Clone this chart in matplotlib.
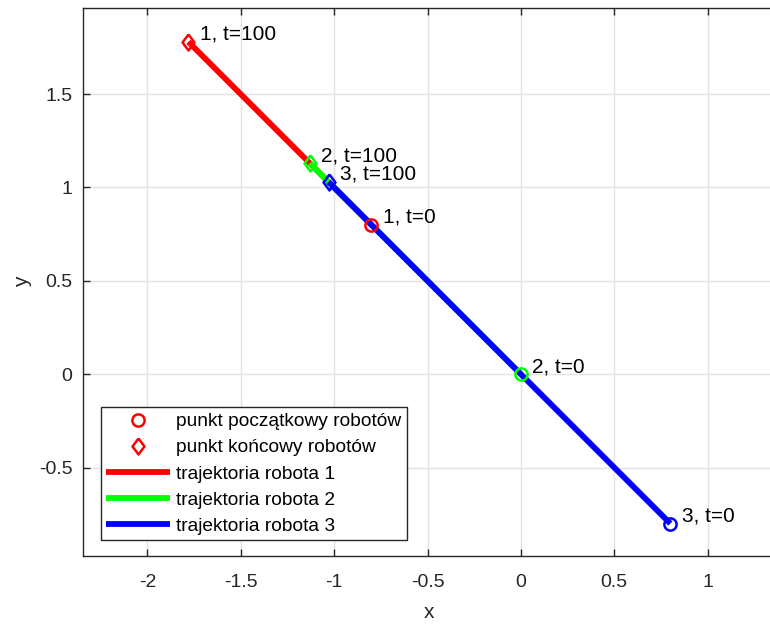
import matplotlib
matplotlib.use("Agg")
import matplotlib.pyplot as plt

plt.rcParams["font.family"] = ["Liberation Sans", "DejaVu Sans"]

# Robot start/end positions (t=0 and t=100)
robot_ids = [1, 2, 3]
robot_colors = ["#ff0000", "#00ff00", "#0000ff"]
start_x = [-0.8, 0.0, 0.8]
start_y = [0.8, 0.0, -0.8]
end_x = [-1.78, -1.13, -1.03]
end_y = [1.78, 1.13, 1.03]
t_start = 0
t_end = 100

x_ticks = [-2, -1.5, -1, -0.5, 0, 0.5, 1]
y_ticks = [-0.5, 0, 0.5, 1, 1.5]

AX_COLOR = "#262626"
DIAMOND = [(0, 1), (0.75, 0), (0, -1), (-0.75, 0), (0, 1)]

fig = plt.figure(figsize=(7.7, 6.24), dpi=100)
ax = fig.add_axes([0.1074, 0.1095, 0.899, 0.877])

# trajectories, later robots drawn over earlier ones
for rid, col, x0, y0, x1, y1 in zip(robot_ids, robot_colors, start_x, start_y, end_x, end_y):
    ax.plot([x0, x1], [y0, y1], color=col, lw=4.2, solid_capstyle="butt",
            label=f"trajektoria robota {rid}", zorder=2)

start_handle = None
end_handle = None
for rid, col, x0, y0, x1, y1 in zip(robot_ids, robot_colors, start_x, start_y, end_x, end_y):
    (h0,) = ax.plot([x0], [y0], ls="none", marker="o", ms=8.8, mew=1.8,
                    mec=col, mfc="none", zorder=4)
    (h1,) = ax.plot([x1], [y1], ls="none", marker=DIAMOND, ms=11.5, mew=1.8,
                    mec=col, mfc="none", zorder=4)
    if start_handle is None:
        start_handle, end_handle = h0, h1
    ax.text(x0 + 0.06, y0 + 0.04, f"{rid}, t={t_start}", fontsize=15,
            va="center", ha="left", zorder=5)
    ax.text(x1 + 0.06, y1 + 0.04, f"{rid}, t={t_end}", fontsize=15,
            va="center", ha="left", zorder=5)

ax.set_xlim(-2.346, 1.36)
ax.set_ylim(-0.972, 1.959)
ax.set_xticks(x_ticks)
ax.set_xticklabels([f"{v:g}" for v in x_ticks])
ax.set_yticks(y_ticks)
ax.set_yticklabels([f"{v:g}" for v in y_ticks])

ax.grid(True, color="#e3e3e3", lw=1.0, zorder=0)
ax.set_axisbelow(True)
for sp in ax.spines.values():
    sp.set_color(AX_COLOR)
    sp.set_linewidth(1.0)
ax.tick_params(direction="in", length=5, width=1.0, colors=AX_COLOR,
               labelsize=14, top=True, right=False)
ax.tick_params(axis="x", pad=13)
ax.tick_params(axis="y", pad=7.5)

ax.set_xlabel("x", fontsize=15, color=AX_COLOR, labelpad=9)
ax.set_ylabel("y", fontsize=15, color=AX_COLOR, labelpad=5)

lines = ax.get_lines()[:3]
leg = ax.legend([start_handle, end_handle] + lines,
                ["punkt początkowy robotów", "punkt końcowy robotów"]
                + [l.get_label() for l in lines],
                loc="lower left", bbox_to_anchor=(0.026, 0.028),
                fontsize=13.8, handlelength=3.3, handletextpad=0.32,
                labelspacing=0.45, borderpad=0.3, borderaxespad=0,
                fancybox=False, framealpha=1, edgecolor=AX_COLOR)
leg.get_frame().set_linewidth(1.0)

fig.savefig("out.png", dpi=100)
